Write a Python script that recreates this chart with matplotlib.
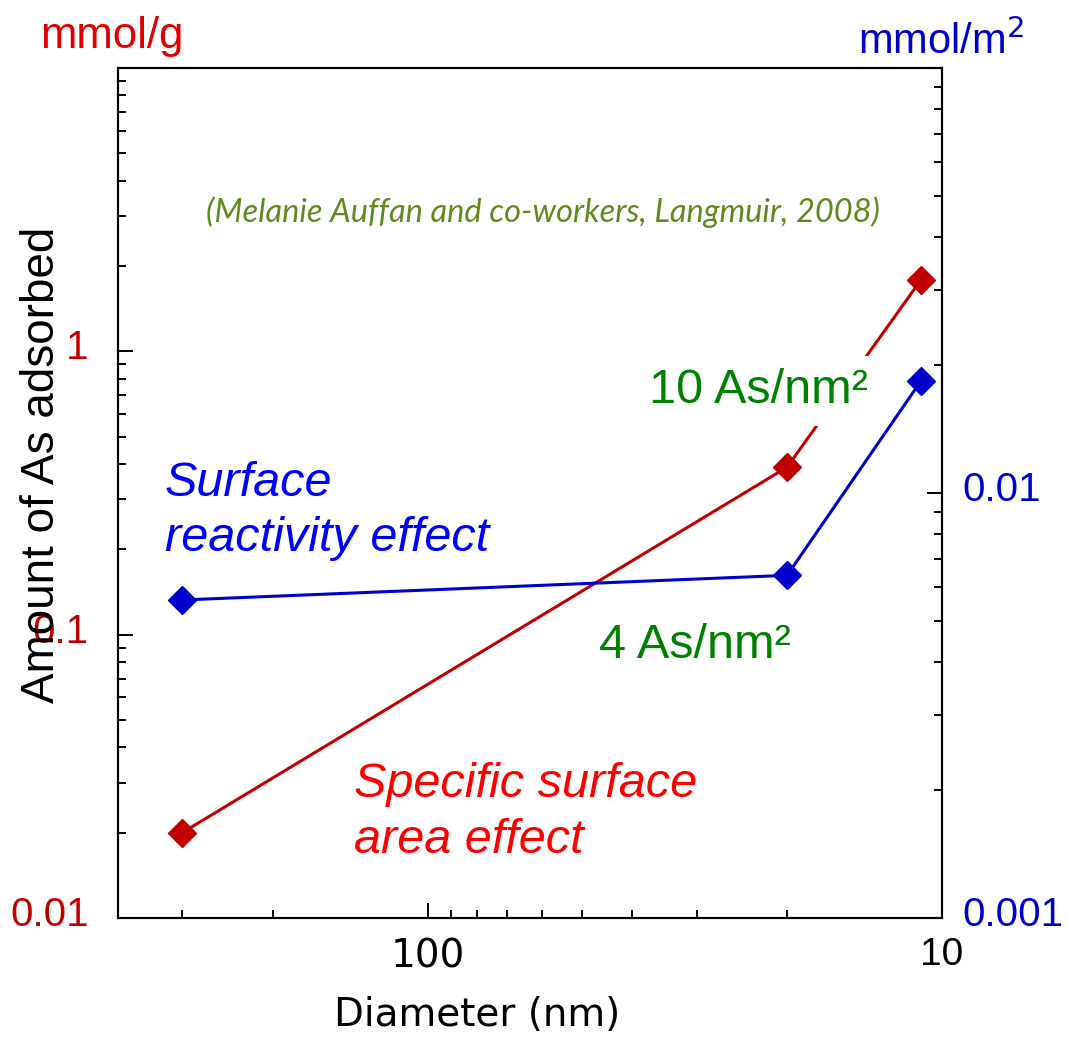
import matplotlib
matplotlib.use("Agg")
import matplotlib.pyplot as plt
from matplotlib.ticker import FixedLocator, NullFormatter, LogLocator
from matplotlib.transforms import ScaledTranslation

# ---- data ----
diameter_nm = [300, 20, 11]
mmol_per_g = [0.02, 0.39, 1.78]
mmol_per_m2 = [0.0056, 0.0064, 0.0183]
left_ticks = [0.01, 0.1, 1]
left_labels = ["0.01", "0.1", "1"]
right_ticks = [0.001, 0.01]
right_labels = ["0.001", "0.01"]
x_ticks = [100, 10]
x_labels = ["100", "10"]

RED_LINE = "#c00000"
BLUE_LINE = "#0000cc"

fig = plt.figure(figsize=(10.67, 10.39), dpi=100)
ax = fig.add_axes([0.1106, 0.1165, 0.7722, 0.8181])
ax2 = ax.twinx()

ax.set_xscale("log")
ax.set_yscale("log")
ax2.set_yscale("log")
ax.set_xlim(400, 10)
ax.set_ylim(0.01, 10)
ax2.set_ylim(0.001, 0.1)

for a in (ax, ax2):
    for s in a.spines.values():
        s.set_linewidth(1.5)

# red series on left axis
ax.plot(diameter_nm, mmol_per_g, color=RED_LINE, lw=2.2, marker="D",
        ms=14, mfc=RED_LINE, mec=RED_LINE, zorder=2)
# blue series on right axis
ax2.plot(diameter_nm, mmol_per_m2, color=BLUE_LINE, lw=2.2, marker="D",
         ms=14, mfc=BLUE_LINE, mec=BLUE_LINE, zorder=5)

# left ticks
ax.yaxis.set_major_locator(FixedLocator(left_ticks + [10]))
ax.set_yticklabels(left_labels + [""])
ax.yaxis.set_minor_locator(LogLocator(base=10, subs=range(2, 10)))
ax.yaxis.set_minor_formatter(NullFormatter())
ax.tick_params(axis="y", which="major", direction="in", length=11, width=1.4,
               labelsize=29, labelcolor=RED_LINE, pad=21, right=False)
ax.tick_params(axis="y", which="minor", direction="in", length=5.5, width=1.4, right=False)

# right ticks
ax2.yaxis.set_major_locator(FixedLocator(right_ticks + [0.1]))
ax2.set_yticklabels(right_labels + [""])
ax2.yaxis.set_minor_locator(LogLocator(base=10, subs=range(2, 10)))
ax2.yaxis.set_minor_formatter(NullFormatter())
ax2.tick_params(axis="y", which="major", direction="in", length=11, width=1.4,
                labelsize=29, labelcolor="#0000cc", pad=15)
ax2.tick_params(axis="y", which="minor", direction="in", length=5.5, width=1.4)

# x ticks
ax.xaxis.set_major_locator(FixedLocator(x_ticks))
ax.set_xticklabels(x_labels)
ax.xaxis.set_minor_locator(LogLocator(base=10, subs=range(2, 10)))
ax.xaxis.set_minor_formatter(NullFormatter())
ax.tick_params(axis="x", which="major", direction="in", length=11, width=1.4,
               labelsize=28, pad=14, top=False)
ax.tick_params(axis="x", which="minor", direction="in", length=5.5, width=1.4, top=False)
xl = ax.get_xticklabels()
xl[0].set_fontfamily("DejaVu Sans")
xl[1].set_fontfamily("Liberation Sans")

# y tick labels: font and a small upward shift as in the reference
off = ScaledTranslation(0, 7 / 100, fig.dpi_scale_trans)
for t in list(ax.get_yticklabels()) + list(ax2.get_yticklabels()):
    t.set_fontfamily("Liberation Sans")
    t.set_transform(t.get_transform() + off)

ax.set_xlabel("Diameter (nm)", fontsize=28, family="DejaVu Sans")
ax.xaxis.set_label_coords(0.436, -0.114)
ax.xaxis.label.set_verticalalignment("center")
ax.set_ylabel("Amount of As adsorbed", fontsize=33, family="Liberation Sans")
ax.yaxis.set_label_coords(-0.0925, 0.533)
ax.yaxis.label.set_verticalalignment("center")
ax.yaxis.label.set_zorder(10)

# unit labels
fig.text(0.0375, 0.965, "mmol/g", color="#e00000", fontsize=31.5,
         family="Liberation Sans", ha="left", va="center")
fig.text(0.804, 0.96, "mmol/m$^2$", color="#0000cc", fontsize=30,
         family="Liberation Sans", ha="left", va="center")

# annotations
ax2.text(0.516, 0.83, "(Melanie Auffan and co-workers, Langmuir, 2008)",
         transform=ax.transAxes, color="#5f8a1e", fontsize=23.5, style="italic",
         family="Lato", ha="center", va="center")
ax2.text(0.91, 0.62, "10 As/nm²", transform=ax.transAxes, color="#008000",
         fontsize=35, family="Liberation Sans", ha="right", va="center",
         bbox=dict(facecolor="white", edgecolor="none", pad=9), zorder=4)
ax2.text(0.816, 0.32, "4 As/nm²", transform=ax.transAxes, color="#008000",
         fontsize=35, family="Liberation Sans", ha="right", va="center", zorder=4)
ax2.text(0.057, 0.479, "Surface\nreactivity effect", transform=ax.transAxes,
         color="#0000ff", fontsize=35, family="Liberation Sans", style="italic",
         ha="left", va="center", linespacing=1.3, zorder=4)
ax2.text(0.287, 0.124, "Specific surface\narea effect", transform=ax.transAxes,
         color="#ff0000", fontsize=35, family="Liberation Sans", style="italic",
         ha="left", va="center", linespacing=1.3, zorder=4)

fig.savefig("out.png", dpi=100, facecolor="white")
